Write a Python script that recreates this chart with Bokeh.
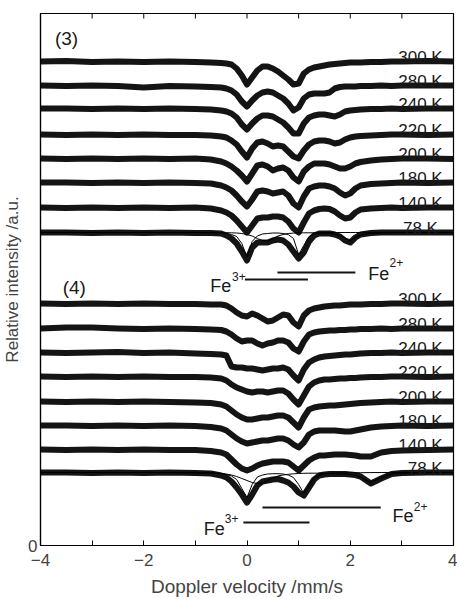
from bokeh.plotting import figure
from bokeh.models import Range1d, FixedTicker
from bokeh.embed import file_html
from bokeh.resources import INLINE
from bokeh.core.properties import value

FONT = "Liberation Sans"

# Doppler velocity grid (mm/s)
V = [-4.0, -3.5, -3.0, -2.5, -2.0, -1.5, -1.0, -0.7,
     -0.5, -0.4, -0.3, -0.2, -0.1, 0.0, 0.1, 0.2, 0.3, 0.4, 0.5, 0.6, 0.7, 0.8, 0.9,
     1.0, 1.1, 1.2, 1.3, 1.4, 1.5, 1.6, 1.7, 1.8, 1.9, 2.0, 2.1, 2.2,
     2.4, 2.6, 2.8, 3.0, 3.5, 4.0]

xticks_major = [-4, -2, 0, 2, 4]
xticks_minor = [-3, -1, 1, 3]

temps3 = ["300 K", "280 K", "240 K", "220 K", "200 K", "180 K", "140 K", "78  K"]
temps4 = ["300 K", "280 K", "240 K", "220 K", "200 K", "180 K", "140 K", "78 K"]

# vertical offsets (a.u.) of each spectrum's baseline
offsets3 = [484, 460, 437, 411, 387, 363, 338, 313]
offsets4 = [242, 217, 193, 169, 144, 120, 96, 73]

# absorption (a.u., positive = downwards) -- sample (3)
s3_300 = [0, -0.5, 0.5, 0, 0.5, 0, 0.5, 1,
          1.5, 2, 3, 7, 14, 23, 16, 9, 5, 5, 7, 10, 14, 18, 23,
          22, 12, 8, 6, 5, 4, 3, 2.5, 2, 1.5, 1, 1, 1,
          0.5, 0.5, 0, 0, -0.5, 0]
s3_280 = [0, 0.5, 0, 0.5, 2, 0.5, 1, 1.5,
          2, 3, 5, 9, 16, 21, 15, 10, 7, 6, 7, 10, 13, 18, 25,
          22, 13, 9, 8, 8, 8, 7, 3, 1.5, 1, 1, 1, 0.5,
          0.5, 0, 0.5, 0, 0, 0]
s3_240 = [0, 0, 0.5, 0, 0.5, 0, 0.5, 1,
          2, 3, 5, 9, 16, 21, 15, 10, 7, 7, 8, 11, 14, 19, 25,
          25, 15, 9, 7, 6, 6, 7, 8, 6, 3, 2, 1.5, 1,
          0.5, 0.5, 0, 0.5, 0, 0]
s3_220 = [0, 0.5, 0, 0.5, 0, 0.5, 0.5, 1,
          2, 3, 6, 10, 17, 23, 14, 8, 7, 9, 12, 11, 12, 17, 22,
          24, 16, 10, 7, 6, 6, 7, 9, 8, 5, 3, 2, 1.5,
          1, 0.5, 0, 0, 0.5, 0]
s3_200 = [0, 0.5, 0, 0.5, 0, 0.5, 0, 1,
          3, 5, 8, 12, 17, 23, 15, 7, 6, 8, 12, 10, 9, 12, 19,
          23, 13, 8, 5, 5, 5, 6, 8, 10, 10, 8, 5, 3.5,
          2, 1, 0.5, 0, 0, 0.5]
s3_180 = [0, 0, 0.5, 0, 0.5, 0, 0.5, 1,
          3, 5, 8, 13, 19, 24, 17, 9, 8, 9, 11, 10, 9, 13, 21,
          25, 14, 6, 4, 3, 3, 4, 6, 10, 13, 11, 6, 3,
          1.5, 1, 0.5, 0, 0.5, 0]
s3_140 = [0, 0.5, 0, 0.5, 0, 0.5, 0, 1,
          3, 5, 8, 13, 19, 25, 18, 11, 10, 10, 9, 9, 10, 14, 21,
          25, 15, 6, 3, 1.5, 1, 1.5, 4, 8, 11, 10, 5, 2,
          1, 0.5, 0, 0.5, 0, 0]
s3_78 = [0, 0, 0.5, 0, 0.5, 0, 0.5, 0.5,
         1, 3, 6, 11, 19, 28, 15, 10, 10, 10, 8, 7, 8, 12, 19,
         26, 20, 9, 3, 1, 1, 1, 2, 4, 8, 10, 5, 2,
         0.5, 0, 0, 0, 0, 0]
comp3_fe3 = [0, 0, 0, 0, 0, 0, 0, 0.3,
             0.5, 1, 2, 4, 11, 25, 9, 3.5, 1.5, 1, 0.5, 0.5, 1, 2, 6,
             22, 13, 4, 1.5, 0.8, 0.4, 0.2, 0, 0, 0, 0, 0, 0,
             0, 0, 0, 0, 0, 0]
comp3_fe2 = [0, 0, 0, 0, 0, 0, 0, 0,
             0, 0.2, 0.3, 0.5, 1, 2, 3.5, 6, 8, 8.5, 6, 3.5, 2, 1, 0.6,
             0.4, 0.3, 0.3, 0.3, 0.4, 0.5, 0.8, 1.5, 3, 6, 8.5, 5, 2.5,
             1, 0.4, 0.2, 0, 0, 0]

# sample (4)
s4_300 = [0, 0.5, 0, 0.5, 0, 0.5, 0.5, 1,
          1, 2, 5, 9, 12, 13, 10, 12, 15, 18, 17, 14, 11, 12, 19,
          23, 12, 7, 5, 4, 3, 2.5, 2, 2, 1.5, 1, 1, 1,
          0.5, 0.5, 0, 0, 0.5, 0]
s4_280 = [0, -1, -1, 0, 0.5, 0, 0.5, 1,
          1.5, 3, 6, 10, 13, 12, 12, 15, 17, 15, 14, 12, 12, 14, 20,
          23, 13, 6, 4, 3, 2.5, 2, 2, 1.5, 1.5, 1, 1, 0.5,
          0.5, 0, 0.5, 0, 0, 0]
s4_240 = [0, 0.5, 0, -0.5, 0.5, 0, 1, 1.5,
          2, 3, 14, 15, 15, 16, 16, 17, 18, 17, 16, 16, 15, 17, 23,
          28, 17, 10, 7, 5, 4, 3.5, 3, 2.5, 2, 2, 1.5, 1,
          0.5, 0.5, 0, 0.5, 0, 0]
s4_220 = [0, 0.5, 0, 0.5, 0, 0.5, 0.5, 1,
          2, 4, 8, 11, 13, 15, 16, 15, 15, 16, 15, 14, 14, 17, 23,
          28, 19, 10, 6, 4, 3, 3, 2.5, 2, 2, 1.5, 1.5, 1,
          0.5, 0.5, 0, 0, 0.5, 0]
s4_200 = [0, 0.5, 0, 0.5, 0, 0.5, 1, 1.5,
          3, 5, 9, 13, 16, 18, 18, 17, 16, 16, 15, 14, 14, 16, 21,
          26, 16, 8, 6, 5, 4.5, 4, 4, 3.5, 3, 2.5, 2, 1.5,
          1, 0.5, 0, 0.5, 0, 0]
s4_180 = [0, 0, 0.5, 0, 0.5, 0, 0.5, 1.5,
          3, 5, 9, 13, 16, 18, 17, 16, 15, 15, 14, 13, 13, 15, 19,
          22, 17, 9, 6, 5, 5, 5, 5, 5.5, 6, 6, 5, 4,
          2, 1, 0.5, 0, 0.5, 0]
s4_140 = [0, 0.5, 0, 0.5, 0, 0.5, 0.5, 1.5,
          3, 5, 10, 15, 19, 21, 19, 16, 14, 13, 12, 12, 12, 13, 17,
          21, 16, 11, 8, 6, 6, 5.5, 5, 5, 5, 5.5, 6, 7,
          7, 3, 1.5, 1, 0.5, 0]
s4_78 = [0, 0, 0.5, 0, 0.5, 0, 0.5, 1,
         3, 5, 9, 15, 22, 30, 22, 13, 9, 8, 7, 6.5, 8, 10, 14,
         20, 23, 15, 7, 3, 2, 1.5, 1.5, 1.5, 1.5, 2, 2.5, 4,
         11, 6, 1.5, 0.5, 0, 0]
comp4_fe3 = [0, 0, 0, 0, 0, 0, 0.2, 0.5,
             1, 2, 3.5, 7, 16, 25, 12, 4.5, 2.5, 1.5, 1.2, 1.2, 1.5, 2.5, 5,
             12, 21, 13, 5, 2.5, 1.5, 1, 0.7, 0.5, 0.4, 0.3, 0.3, 0.2,
             0.1, 0, 0, 0, 0, 0]
comp4_fe2 = [0, 0, 0, 0, 0, 0.2, 0.3, 0.5,
             1, 1.5, 2.5, 4, 6, 8, 10, 11, 10.5, 8, 5.5, 3.5, 2.5, 1.8, 1.3,
             1, 0.8, 0.7, 0.7, 0.7, 0.8, 0.9, 1, 1.2, 1.5, 2, 3, 4.5,
             10, 5, 1.5, 0.7, 0.2, 0]

spectra3 = [s3_300, s3_280, s3_240, s3_220, s3_200, s3_180, s3_140, s3_78]
spectra4 = [s4_300, s4_280, s4_240, s4_220, s4_200, s4_180, s4_140, s4_78]

YTOP = 532
p = figure(frame_width=413, frame_height=532,
           x_range=Range1d(-4, 4), y_range=Range1d(0, YTOP),
           output_backend="svg", toolbar_location=None,
           min_border_top=13, min_border_right=4, min_border_left=0,
           min_border_bottom=0, background_fill_color="white")
p.xgrid.visible = False
p.ygrid.visible = False
p.outline_line_color = "black"
p.outline_line_width = 1.2

xa = p.xaxis[0]
xa.ticker = FixedTicker(ticks=xticks_major, minor_ticks=xticks_minor)
xa.major_label_overrides = {-4: "\u22124", -2: "\u22122"}
xa.major_tick_in = 5
xa.major_tick_out = 0
xa.minor_tick_in = 5
xa.minor_tick_out = 0
xa.axis_label = "Doppler velocity /mm/s"
xa.axis_label_text_font = FONT
xa.axis_label_text_font_style = "normal"
xa.axis_label_text_font_size = "19px"
xa.major_label_text_font = FONT
xa.major_label_text_font_size = "17px"
xa.major_label_standoff = 8
xa.axis_label_standoff = 7
xa.axis_line_width = 1.2

ya = p.yaxis[0]
ya.ticker = FixedTicker(ticks=[0], minor_ticks=[])
ya.major_tick_in = 0
ya.major_tick_out = 0
ya.minor_tick_in = 0
ya.minor_tick_out = 0
ya.axis_label = "Relative intensity /a.u."
ya.axis_label_text_font = FONT
ya.axis_label_text_font_style = "normal"
ya.axis_label_text_font_size = "17px"
ya.major_label_text_font = FONT
ya.major_label_text_font_size = "17px"
ya.major_label_standoff = 3
ya.axis_label_standoff = 3
ya.axis_line_width = 1.2

INK = "#141414"

# inward tick marks along the top frame edge
top_ticks = xticks_major + xticks_minor
p.segment(x0=top_ticks, x1=top_ticks, y0=[YTOP] * len(top_ticks),
          y1=[YTOP - 5] * len(top_ticks), line_color="black", line_width=1)

for spec, off in zip(spectra3 + spectra4, offsets3 + offsets4):
    ys = [off - d for d in spec]
    p.line(V, ys, line_width=6, line_color=INK, line_join="round", line_cap="round")

for comp, off in [(comp3_fe3, offsets3[-1]), (comp3_fe2, offsets3[-1]),
                  (comp4_fe3, offsets4[-1]), (comp4_fe2, offsets4[-1])]:
    p.line(V, [off - d for d in comp], line_width=1, line_color="black")

txt = dict(text_font=value(FONT), text_color="#1a1a1a")
p.text(x=[3.79] * 8, y=[o + 4 for o in offsets3], text=temps3,
       text_align="right", text_baseline="alphabetic", text_font_size="17px", **txt)
p.text(x=[3.79] * 8, y=[o + 4 for o in offsets4], text=temps4,
       text_align="right", text_baseline="alphabetic", text_font_size="17px", **txt)

p.text(x=[-3.72, -3.57], y=[507, 258], text=["(3)", "(4)"],
       text_baseline="middle", text_align="left", text_font_size="19px", **txt)

# Fe labels
p.text(x=[-0.71, 2.35, -0.84, 2.82], y=[260, 272, 17, 30], text=["Fe", "Fe", "Fe", "Fe"],
       text_baseline="alphabetic", text_align="left", text_font_size="18px", **txt)
p.text(x=[-0.29, 2.76, -0.43, 3.23], y=[269, 283, 27, 39], text=["3+", "2+", "3+", "2+"],
       text_baseline="alphabetic", text_align="left", text_font_size="12px", **txt)

# quadrupole splitting bars
p.segment(x0=[-0.04, 0.59, -0.07, 0.30], x1=[1.18, 2.10, 1.21, 2.59],
          y0=[266, 273, 23, 38], y1=[266, 273, 23, 38],
          line_width=2, line_color=INK)

open("out.html", "w").write(file_html(p, INLINE))
